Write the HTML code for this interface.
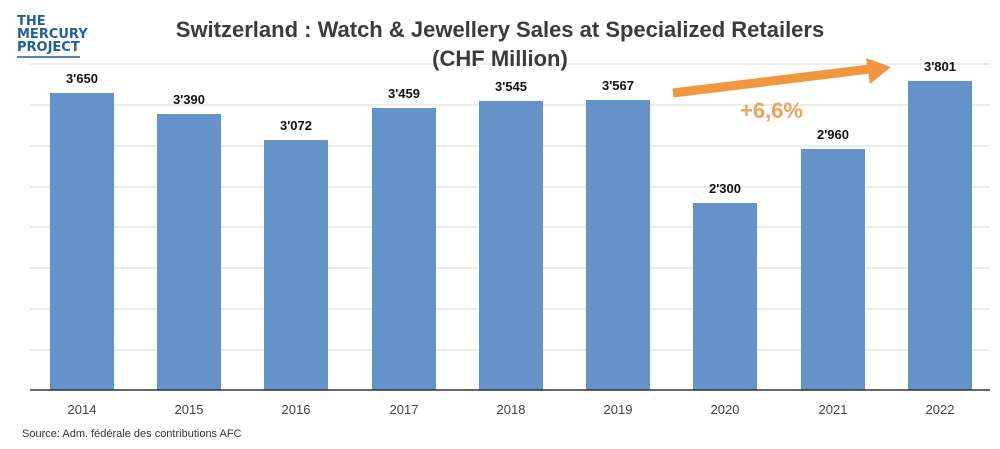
<!DOCTYPE html>
<html><head><meta charset="utf-8"><style>
body{margin:0;background:#fff;}
svg{display:block;font-family:"Liberation Sans",sans-serif;}
</style></head><body>
<svg width="1000" height="449" viewBox="0 0 1000 449">
<rect width="1000" height="449" fill="#fff"/>
<g font-weight="bold" fill="#1f5f9e" font-size="13" font-family="'DejaVu Sans',sans-serif">
<text x="17" y="25">THE</text><text x="17" y="38">MERCURY</text><text x="17" y="51">PROJECT</text>
</g>
<line x1="17" y1="57" x2="80" y2="57" stroke="#1f5f9e" stroke-width="1.5"/>
<g stroke="#d9d9d9" stroke-width="1">
<line x1="30" y1="64" x2="990" y2="64"/><line x1="30" y1="105" x2="990" y2="105"/>
<line x1="30" y1="146" x2="990" y2="146"/><line x1="30" y1="187" x2="990" y2="187"/>
<line x1="30" y1="227" x2="990" y2="227"/><line x1="30" y1="268" x2="990" y2="268"/>
<line x1="30" y1="309" x2="990" y2="309"/><line x1="30" y1="350" x2="990" y2="350"/>
</g>
<text x="500" y="37" text-anchor="middle" font-size="22" font-weight="bold" fill="#3b3b3b">Switzerland : Watch &amp; Jewellery Sales at Specialized Retailers</text>
<text x="500" y="66" text-anchor="middle" font-size="22" font-weight="bold" fill="#3b3b3b">(CHF Million)</text>
<g fill="#6592c9">
<rect x="50" y="93" width="64" height="297"/>
<rect x="157" y="114" width="64" height="276"/>
<rect x="264" y="140" width="64" height="250"/>
<rect x="372" y="108" width="64" height="282"/>
<rect x="479" y="101" width="64" height="289"/>
<rect x="586" y="100" width="64" height="290"/>
<rect x="693" y="203" width="64" height="187"/>
<rect x="801" y="149" width="64" height="241"/>
<rect x="908" y="81" width="64" height="309"/>
</g>
<line x1="30" y1="390" x2="990" y2="390" stroke="#333" stroke-width="1.5"/>
<g font-size="13" font-weight="bold" fill="#111" text-anchor="middle">
<text x="82" y="83">3'650</text><text x="189" y="104">3'390</text><text x="296" y="130">3'072</text>
<text x="404" y="98">3'459</text><text x="511" y="91">3'545</text><text x="618" y="90">3'567</text>
<text x="725" y="193">2'300</text><text x="833" y="139">2'960</text><text x="940" y="71">3'801</text>
</g>
<g font-size="13" fill="#444" text-anchor="middle">
<text x="82" y="414">2014</text><text x="189" y="414">2015</text><text x="296" y="414">2016</text>
<text x="404" y="414">2017</text><text x="511" y="414">2018</text><text x="618" y="414">2019</text>
<text x="725" y="414">2020</text><text x="833" y="414">2021</text><text x="940" y="414">2022</text>
</g>
<text x="22" y="437" font-size="11" fill="#333">Source:  Adm. fédérale des contributions AFC</text>
<line x1="673" y1="93" x2="870" y2="69" stroke="#f0963e" stroke-width="9"/>
<polygon points="866,58 891,67 870,84" fill="#f0963e"/>
<text x="740" y="118" font-size="22" font-weight="bold" fill="#f0a25a">+6,6%</text>
</svg>
</body></html>
